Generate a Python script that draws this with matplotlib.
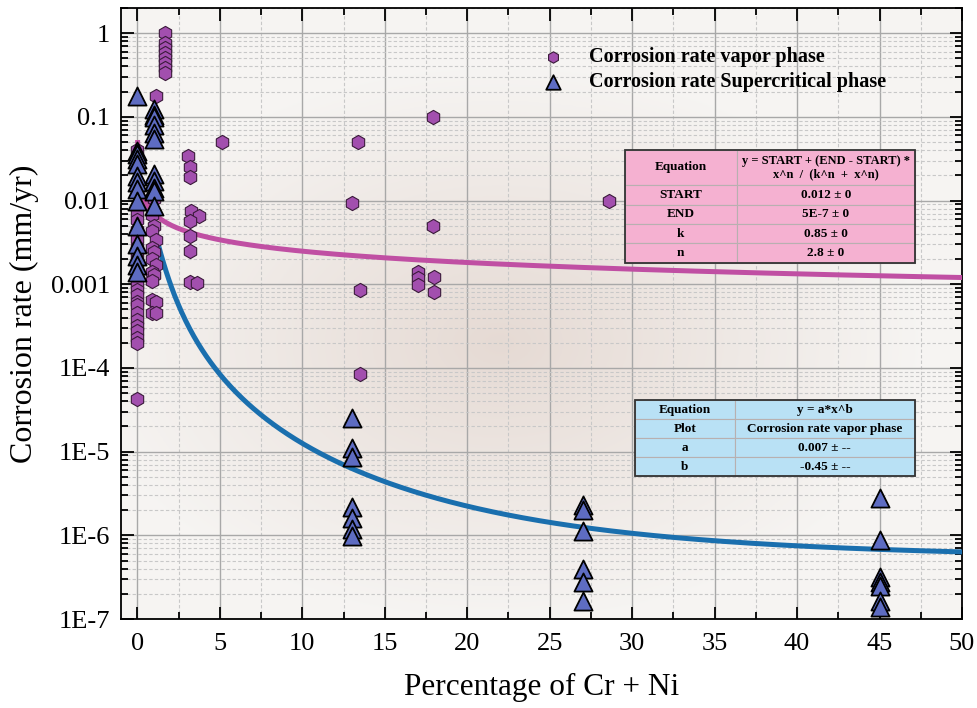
""" Corrosion rate vs Cr + Ni content, vapor and supercritical phase"""

import numpy as np
import matplotlib
matplotlib.use('Agg')
import matplotlib.pyplot as plt
from matplotlib.ticker import FixedLocator, MultipleLocator, NullFormatter

plt.rcParams['font.family'] = ['Liberation Serif', 'DejaVu Serif']

# Data - vapor phase
vap_x = [0, 0, 0, 0, 0, 0, 0, 0, 0, 0, 0, 0, 0, 0, 0, 0, 0, 0, 0, 0, 0, 0,
         1.1, 1.0, 0.9, 1.0, 0.9, 1.1, 0.9, 1.0, 0.9, 1.1, 0.9, 1.0, 0.9, 0.9, 1.1, 0.9, 1.1,
         1.7, 1.7, 1.7, 1.7, 1.7, 1.7, 1.7, 1.7,
         3.05, 3.2, 3.2, 3.25, 3.75, 3.2, 3.2, 3.2, 3.2, 3.6,
         5.15,
         13.4, 13.0, 13.5, 13.5,
         17.0, 17.0, 17.0, 17.9, 17.9, 18.0, 18.0,
         28.6]
vap_y = [0.04, 0.0072, 0.0059, 0.0045, 0.0035, 0.0028, 0.0024, 0.0020, 0.0016, 0.0013,
         0.00102, 0.00085, 0.00074, 0.00061, 0.00056, 0.00045, 0.00037, 0.00032, 0.00028,
         0.000225, 0.0002, 4.3e-5,
         0.18, 0.0103, 0.0068, 0.0049, 0.0043, 0.0034, 0.0027, 0.0024, 0.0020, 0.0017,
         0.0014, 0.0013, 0.0011, 0.00065, 0.00062, 0.00045, 0.00045,
         1.0, 0.76, 0.67, 0.585, 0.51, 0.435, 0.38, 0.33,
         0.034, 0.025, 0.019, 0.0075, 0.0065, 0.0057, 0.0038, 0.0025, 0.00107, 0.00103,
         0.05,
         0.05, 0.0093, 0.00085, 8.4e-5,
         0.0014, 0.0012, 0.00097, 0.099, 0.0049, 0.00123, 0.00081,
         0.01]

# Data - supercritical phase
sc_x = [0, 0, 0, 0, 0, 0, 0, 0, 0, 0, 0, 0, 0, 0,
        1, 1, 1, 1, 1, 1, 1, 1, 1, 1, 1,
        13, 13, 13, 13, 13, 13, 13,
        27, 27, 27, 27, 27, 27,
        45, 45, 45, 45, 45, 45, 45]
sc_y = [0.18, 0.039, 0.036, 0.031, 0.027, 0.0198, 0.0165, 0.0137, 0.0098, 0.0049,
        0.0030, 0.0022, 0.0017, 0.0014,
        0.125, 0.104, 0.099, 0.079, 0.065, 0.055, 0.0206, 0.0172, 0.0143, 0.0131, 0.0085,
        2.5e-5, 1.1e-5, 8.7e-6, 2.2e-6, 1.6e-6, 1.2e-6, 9.8e-7,
        2.3e-6, 2.0e-6, 1.13e-6, 4.0e-7, 2.8e-7, 1.65e-7,
        2.8e-6, 8.7e-7, 3.2e-7, 2.8e-7, 2.5e-7, 1.65e-7, 1.4e-7]

# Fit parameters (from the tables)
START, END, k, n = 0.012, 5e-7, 0.85, 2.8
a, b = 0.007, -0.45

# y ticks
yticks = [1e-7, 1e-6, 1e-5, 1e-4, 1e-3, 1e-2, 1e-1, 1]
ylabels = ['1E-7', '1E-6', '1E-5', '1E-4', '0.001', '0.01', '0.1', '1']

# Table texts
tab1 = [['Equation', 'y = START + (END - START) *\nx^n  /  (k^n  +  x^n)'],
        ['START', '0.012 \u00b1 0'],
        ['END', '5E-7 \u00b1 0'],
        ['k', '0.85 \u00b1 0'],
        ['n', '2.8 \u00b1 0']]
tab2 = [['Equation', 'y = a*x^b'],
        ['Plot', 'Corrosion rate vapor phase'],
        ['a', '0.007 \u00b1 --'],
        ['b', '-0.45 \u00b1 --']]

fig = plt.figure(figsize=(9.77, 7.08), dpi=100)
ax = fig.add_axes([0.1238, 0.1257, 0.8608, 0.863])

# soft radial background
gx, gy = np.meshgrid(np.linspace(-1, 1, 300), np.linspace(-1, 1, 300))
r = np.clip(np.sqrt(((gx + 0.1) * 1.0) ** 2 + ((gy - 0.1) * 1.1) ** 2), 0, 1)
bg = np.zeros((300, 300, 3))
c_in = np.array([0.900, 0.855, 0.830])
c_out = np.array([0.965, 0.958, 0.950])
for i in range(3):
    bg[:, :, i] = c_in[i] + (c_out[i] - c_in[i]) * r
ax.imshow(bg, extent=[0, 1, 0, 1], transform=ax.transAxes, aspect='auto', zorder=0)

ax.set_yscale('log')
ax.set_xlim(-1, 50)
ax.set_ylim(1e-7, 2)

# ticks
ax.xaxis.set_major_locator(MultipleLocator(5))
ax.xaxis.set_minor_locator(MultipleLocator(2.5))
ax.set_yticks(yticks)
ax.set_yticklabels(ylabels)
minor = [m * t for t in yticks[:-1] for m in range(2, 10)]
minor += [2 * yticks[-1]]
ax.yaxis.set_minor_locator(FixedLocator(minor))
ax.yaxis.set_minor_formatter(NullFormatter())
ax.set_ylim(1e-7, 2)

# grid
ax.grid(True, which='major', color='#a8a8a8', lw=1.0, zorder=1)
ax.grid(True, which='minor', color='#c8c8c8', lw=0.8, ls=(0, (3, 2)), zorder=1)
ax.set_axisbelow(True)

# fit curves
xf = np.linspace(0, 50, 600)
ax.plot(xf, START + (END - START) * xf ** n / (k ** n + xf ** n), color='#1a6fae', lw=3.6, zorder=3)
xp = np.linspace(0.013, 50, 2000)
ax.plot(xp, a * xp ** b, color='#c04fa3', lw=3.6, zorder=3)

ax.scatter(vap_x, vap_y, marker='h', s=105, color='#a24fae', edgecolor='#3a1a3a', lw=0.8,
           zorder=4, label='Corrosion rate vapor phase')
ax.scatter(sc_x, sc_y, marker='^', s=170, color='#5e6cc2', edgecolor='black', lw=1.3,
           zorder=5, label='Corrosion rate Supercritical phase')

ax.tick_params(which='both', direction='in', top=True, right=True, labelsize=19, width=1.3)
ax.tick_params(which='major', length=9, pad=8)
ax.tick_params(which='minor', length=5)
ax.tick_params(axis='x', which='major', pad=10)
for s in ax.spines.values():
    s.set_linewidth(1.3)

ax.set_xlabel('Percentage of Cr + Ni', fontsize=22.5, labelpad=13)
ax.set_ylabel('Corrosion rate (mm/yr)', fontsize=23, labelpad=8)

leg = ax.legend(loc='upper left', bbox_to_anchor=(0.468, 0.966), frameon=False,
                prop={'weight': 'bold', 'size': 14.5}, handletextpad=0.8, labelspacing=0.25,
                markerscale=0.8)

# tables
t1 = ax.table(cellText=tab1, bbox=[0.599, 0.583, 0.345, 0.185], colWidths=[0.386, 0.614],
              cellLoc='center', zorder=6)
t2 = ax.table(cellText=tab2, bbox=[0.611, 0.234, 0.333, 0.124], colWidths=[0.357, 0.643],
              cellLoc='center', zorder=6)
for t, fc in ((t1, '#f5b1d1'), (t2, '#b9e1f5')):
    t.auto_set_font_size(False)
    for (ri, ci), cell in t.get_celld().items():
        cell.set_facecolor(fc)
        cell.set_edgecolor('#b8b0b0')
        cell.set_linewidth(0.8)
        cell.get_text().set_fontsize(9.5)
        cell.get_text().set_fontweight('bold')
t1.get_celld()[(0, 1)].get_text().set_fontsize(9)
# row heights of first table: header taller
cells = t1.get_celld()
hh = 0.185 * 35 / 112
rh = (0.185 - hh) / 4
for ci in range(2):
    cells[(0, ci)].set_height(hh)
    for ri in range(1, 5):
        cells[(ri, ci)].set_height(rh)
ax.add_patch(plt.Rectangle((0.599, 0.583), 0.345, 0.185, transform=ax.transAxes, fill=False,
                           ec='#333333', lw=1.3, zorder=7))
ax.add_patch(plt.Rectangle((0.611, 0.234), 0.333, 0.124, transform=ax.transAxes, fill=False,
                           ec='#333333', lw=1.3, zorder=7))

fig.savefig('out.png', dpi=100, facecolor='white')
